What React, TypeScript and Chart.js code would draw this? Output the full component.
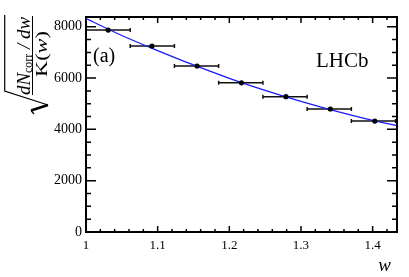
import React, { useEffect, useRef } from 'react';
import { Chart, registerables } from 'chart.js';

Chart.register(...registerables);

// ---- data ----
const binEdges = [1.0, 1.0617, 1.1234, 1.1851, 1.2469, 1.3086, 1.3703, 1.432];
const pointW = [1.031, 1.092, 1.155, 1.217, 1.279, 1.341, 1.403];
const pointY = [7870, 7250, 6470, 5815, 5275, 4795, 4325];
const pointYErr = [60, 55, 50, 45, 45, 40, 40];
const curveW = [1.0, 1.05, 1.1, 1.15, 1.2, 1.25, 1.3, 1.35, 1.4, 1.434];
const curveY = [8320, 7660, 7070, 6510, 5990, 5520, 5090, 4700, 4350, 4150];
const xTicks = [1, 1.1, 1.2, 1.3, 1.4];
const xTickLabels = ['1', '1.1', '1.2', '1.3', '1.4'];
const yTicks = [0, 2000, 4000, 6000, 8000];
const yTickLabels = ['0', '2000', '4000', '6000', '8000'];
const xMin = 1;
const xMax = 1.434;
const yMin = 0;
const yMax = 8380;
const xMinorStep = 0.02;
const yMinorStep = 500;

const SERIF = '"Liberation Serif", "DejaVu Serif", serif';

function drawRotatedRun(
  ctx: CanvasRenderingContext2D,
  pieces: { t: string; font: string; dy?: number }[],
  baselineX: number,
  centerY: number,
  targetLen: number
) {
  const widths = pieces.map((p) => {
    ctx.font = p.font;
    return ctx.measureText(p.t).width;
  });
  const W = widths.reduce((a, b) => a + b, 0);
  const s = targetLen / W;
  ctx.save();
  ctx.translate(baselineX, centerY);
  ctx.rotate(-Math.PI / 2);
  ctx.scale(s, 1);
  ctx.textAlign = 'left';
  ctx.textBaseline = 'alphabetic';
  let x = -W / 2;
  pieces.forEach((p, i) => {
    ctx.font = p.font;
    ctx.fillText(p.t, x, p.dy || 0);
    x += widths[i];
  });
  ctx.restore();
}

const decorPlugin = {
  id: 'decor',
  beforeDatasetsDraw(chart: any) {
    const ctx: CanvasRenderingContext2D = chart.ctx;
    const xs = chart.scales.x;
    const ys = chart.scales.y;
    ctx.save();
    ctx.strokeStyle = '#111';
    ctx.lineWidth = 1.5;
    for (let i = 0; i < pointW.length; i++) {
      const xl = xs.getPixelForValue(binEdges[i]);
      const xr = xs.getPixelForValue(binEdges[i + 1]);
      const xc = xs.getPixelForValue(pointW[i]);
      const yp = ys.getPixelForValue(pointY[i]);
      const yt = ys.getPixelForValue(pointY[i] + pointYErr[i]);
      const yb = ys.getPixelForValue(pointY[i] - pointYErr[i]);
      ctx.beginPath();
      ctx.moveTo(xl, yp);
      ctx.lineTo(xr, yp);
      ctx.moveTo(xl, yp - 2);
      ctx.lineTo(xl, yp + 2);
      ctx.moveTo(xr, yp - 2);
      ctx.lineTo(xr, yp + 2);
      ctx.moveTo(xc, yt);
      ctx.lineTo(xc, yb);
      ctx.stroke();
    }
    ctx.restore();
  },
  afterDraw(chart: any) {
    const ctx: CanvasRenderingContext2D = chart.ctx;
    const { left, right, top, bottom } = chart.chartArea;
    const xs = chart.scales.x;
    const ys = chart.scales.y;
    ctx.save();
    ctx.strokeStyle = '#000';
    // ticks
    ctx.lineWidth = 1.5;
    ctx.beginPath();
    for (let v = xMin; v <= xMax + 1e-9; v += xMinorStep) {
      const r = Math.round(v * 100) / 100;
      const px = xs.getPixelForValue(r);
      const major = Math.abs(r * 10 - Math.round(r * 10)) < 1e-6;
      const len = major ? 6 : 3;
      ctx.moveTo(px, bottom);
      ctx.lineTo(px, bottom - len);
      ctx.moveTo(px, top);
      ctx.lineTo(px, top + len);
    }
    for (let v = yMin; v <= yMax; v += yMinorStep) {
      const py = ys.getPixelForValue(v);
      const major = v % 2000 === 0;
      const len = major ? 10 : 5;
      ctx.moveTo(left, py);
      ctx.lineTo(left + len, py);
      ctx.moveTo(right, py);
      ctx.lineTo(right - len, py);
    }
    ctx.stroke();
    // frame
    ctx.lineWidth = 2;
    ctx.strokeRect(left, top, right - left, bottom - top);

    // texts
    ctx.fillStyle = '#000';
    ctx.textBaseline = 'alphabetic';
    ctx.textAlign = 'left';
    ctx.font = `20px ${SERIF}`;
    ctx.fillText('(a)', 93, 62);
    ctx.font = `21px ${SERIF}`;
    ctx.fillText('LHCb', 316, 67);
    ctx.textAlign = 'right';
    ctx.font = `italic 19px ${SERIF}`;
    ctx.fillText('w', 391, 271);

    // y-axis title: sqrt( dN_corr / dw  over  K(w) )
    drawRotatedRun(
      ctx,
      [
        { t: 'dN', font: `italic 19px ${SERIF}` },
        { t: 'corr', font: `12px ${SERIF}`, dy: 2 },
        { t: ' / ', font: `italic 19px ${SERIF}` },
        { t: 'dw', font: `italic 19px ${SERIF}` },
      ],
      29.5,
      56,
      78
    );
    drawRotatedRun(
      ctx,
      [
        { t: 'K', font: `17px ${SERIF}` },
        { t: '(', font: `17px ${SERIF}` },
        { t: 'w', font: `italic 17px ${SERIF}` },
        { t: ')', font: `17px ${SERIF}` },
      ],
      46.5,
      54,
      46
    );
    ctx.lineWidth = 1;
    ctx.beginPath();
    ctx.moveTo(32.5, 16);
    ctx.lineTo(32.5, 95);
    ctx.stroke();
    // radical sign
    ctx.lineWidth = 1.2;
    ctx.beginPath();
    ctx.moveTo(4.7, 15);
    ctx.lineTo(4.7, 91);
    ctx.lineTo(48, 105);
    ctx.stroke();
    ctx.lineWidth = 2.6;
    ctx.beginPath();
    ctx.moveTo(48, 105);
    ctx.lineTo(31, 110.5);
    ctx.stroke();
    ctx.lineWidth = 1.2;
    ctx.beginPath();
    ctx.moveTo(31, 110.5);
    ctx.lineTo(34, 114);
    ctx.stroke();
    ctx.restore();
  },
};

export default function App() {
  const ref = useRef<HTMLCanvasElement | null>(null);
  useEffect(() => {
    if (!ref.current) return;
    const chart = new Chart(ref.current, {
      type: 'scatter',
      data: {
        datasets: [
          {
            label: 'data',
            data: pointW.map((w, i) => ({ x: w, y: pointY[i] })),
            pointRadius: 2.6,
            pointBackgroundColor: '#000',
            pointBorderWidth: 0,
            showLine: false,
          },
          {
            label: 'fit',
            data: curveW.map((w, i) => ({ x: w, y: curveY[i] })),
            showLine: true,
            borderColor: 'rgb(25,25,255)',
            borderWidth: 1.3,
            pointRadius: 0,
            cubicInterpolationMode: 'monotone',
            fill: false,
          },
        ],
      },
      options: {
        responsive: false,
        animation: false,
        devicePixelRatio: 1,
        layout: { padding: { top: 17, right: 12, left: 0, bottom: 0 } },
        plugins: { legend: { display: false }, tooltip: { enabled: false } },
        scales: {
          x: {
            type: 'linear',
            min: xMin,
            max: xMax,
            grid: { display: false, drawTicks: false, tickLength: 0 },
            border: { display: false },
            ticks: {
              color: '#000',
              font: { family: SERIF, size: 13 },
              padding: 6,
              maxRotation: 0,
              autoSkip: false,
              callback: (_v: any, i: number) => xTickLabels[i],
            },
            afterBuildTicks: (s: any) => {
              s.ticks = xTicks.map((v) => ({ value: v }));
            },
            afterFit: (s: any) => {
              s.height = 45;
            },
          },
          y: {
            type: 'linear',
            min: yMin,
            max: yMax,
            grid: { display: false, drawTicks: false, tickLength: 0 },
            border: { display: false },
            ticks: {
              color: '#000',
              font: { family: SERIF, size: 14 },
              padding: 4,
              autoSkip: false,
              callback: (_v: any, i: number) => yTickLabels[i],
            },
            afterBuildTicks: (s: any) => {
              s.ticks = yTicks.map((v) => ({ value: v }));
            },
            afterFit: (s: any) => {
              s.width = 86;
            },
          },
        },
      },
      plugins: [decorPlugin],
    } as any);
    return () => chart.destroy();
  }, []);
  return (
    <div style={{ position: 'fixed', left: 0, top: 0, width: 409, height: 277, background: '#fff' }}>
      <canvas ref={ref} width={409} height={277} style={{ display: 'block' }} />
    </div>
  );
}
